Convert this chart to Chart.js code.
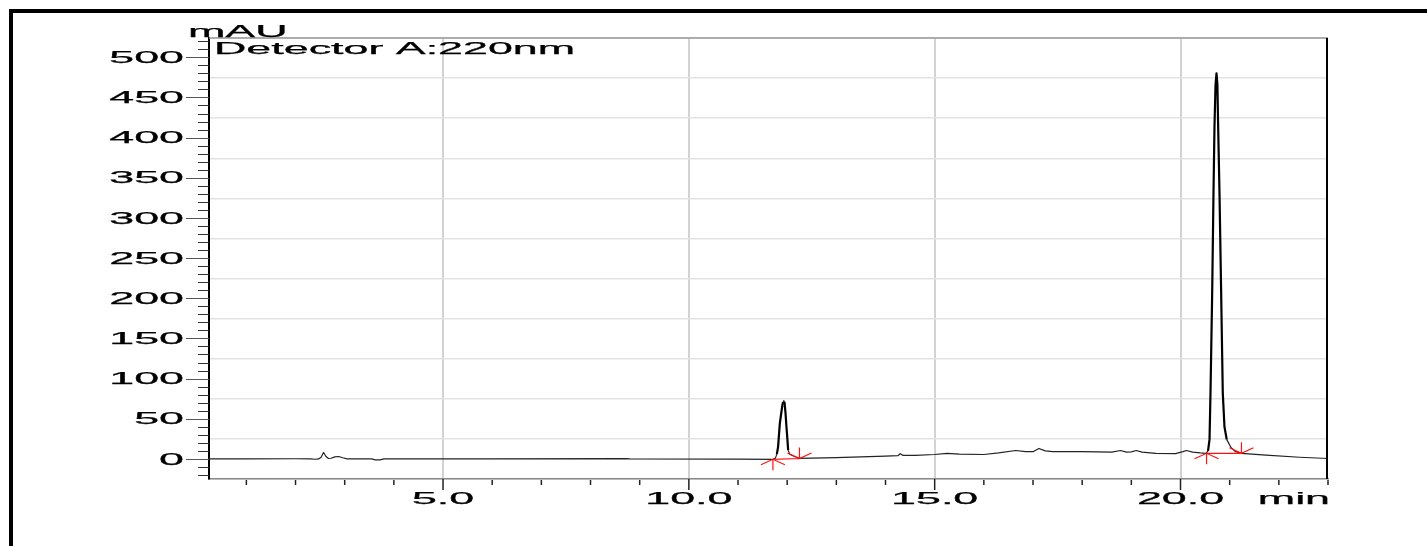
<!DOCTYPE html>
<html>
<head>
<meta charset="utf-8">
<script src="https://cdn.jsdelivr.net/npm/chart.js@4.4.1/dist/chart.umd.min.js"></script>
<style>
  html, body { margin: 0; padding: 0; background: #fff; }
  #wrap { width: 1427px; height: 546px; }
</style>
</head>
<body>
<div id="wrap"><canvas id="chrom" width="1427" height="546"></canvas></div>
<script>
// Chromatogram trace: retention time (min) / detector response (mAU)
const retTimes = [
  0.24, 1.0, 2.0, 2.3, 2.4, 2.47, 2.52, 2.57, 2.62, 2.67, 2.72, 2.8, 2.88, 2.96, 3.05,
  3.55, 3.62, 3.72, 3.8, 6.0, 8.7, 8.8, 11.0,
  11.71, 11.76, 11.79, 11.815, 11.85, 11.895, 11.915, 11.93, 11.945, 11.965, 11.985, 12.0, 12.02, 12.05, 12.15, 12.25,
  12.5, 13.0, 13.5, 14.0, 14.25, 14.3, 14.35, 14.6, 15.0, 15.25, 15.5, 16.0, 16.3, 16.65, 16.85,
  17.0, 17.12, 17.25, 17.4, 18.0, 18.6, 18.78, 18.9, 19.0, 19.1, 19.22, 19.5, 19.9, 20.05, 20.12,
  20.25, 20.4, 20.52,
  20.56, 20.59, 20.61, 20.644, 20.671, 20.691, 20.712, 20.732, 20.75, 20.766, 20.793, 20.827,
  20.86, 20.894, 20.941, 21.03, 21.12, 21.24, 21.74, 22.42, 23.0
];
const mAU = [
  0, 0, 0.2, 0, -0.4, 0, 2, 8, 3, 0.5, 0.8, 2.5, 3, 1.5, 0,
  0, -1.2, -1.2, 0, 0, 0.3, 0, -0.3,
  -0.5, 1, 6, 15, 44, 64, 71, 72.5, 71, 58, 40, 28, 11, 6, 3, 0.8,
  1, 1.5, 2.5, 3.5, 4, 6.5, 4.5, 4.5, 5.5, 7, 6, 5.5, 7.5, 10.5, 9,
  9, 13, 10, 9, 9, 8.5, 10.5, 8.5, 8.7, 10.5, 8.5, 7, 6.5, 9, 10.5,
  8.5, 7.5, 7,
  10, 24, 82, 206, 331, 413, 465, 480, 467, 413, 331, 206,
  82, 40, 24, 14, 9, 7, 4.6, 2.1, 0.5
];

// Axis ticks and labels
const yTicks = [0, 50, 100, 150, 200, 250, 300, 350, 400, 450, 500];
const yTickLabels = ['0', '50', '100', '150', '200', '250', '300', '350', '400', '450', '500'];
const xTicks = [5, 10, 15, 20];
const xTickLabels = ['5.0', '10.0', '15.0', '20.0'];

// Integration marks (peak start / end and baseline level)
const peakStart = [11.71, 20.53];
const peakStartLevel = [-0.5, 7];
const peakEnd = [12.25, 21.24];
const peakEndLevel = [0.5, 7];

const TEXT_STRETCH = 2.8;
const FONT = '16px "Liberation Sans", Arial, sans-serif';

function wideText(ctx, text, x, y, align) {
    ctx.save();
    ctx.translate(x, y);
    ctx.scale(TEXT_STRETCH, 1);
    ctx.textAlign = align;
    ctx.textBaseline = 'alphabetic';
    ctx.lineWidth = 0.25;
    ctx.strokeStyle = '#000';
    ctx.fillText(text, 0, 0);
    ctx.strokeText(text, 0, 0);
    ctx.restore();
}

const decor = {
    id: 'decor',
    beforeDraw(chart) {
        const ctx = chart.ctx;
        ctx.save();
        ctx.fillStyle = '#fff';
        ctx.fillRect(0, 0, chart.width, chart.height);
        ctx.restore();
    },
    afterDatasetsDraw(chart) {
        const { ctx, chartArea: area, scales: { x, y } } = chart;
        ctx.save();

        // outer frame
        ctx.fillStyle = '#000';
        ctx.fillRect(9, 9, chart.width - 9, 4);
        ctx.fillRect(9, 9, 4, chart.height - 9);

        // plot top and right borders
        ctx.strokeStyle = '#999';
        ctx.lineWidth = 1.5;
        ctx.beginPath();
        ctx.moveTo(area.left, area.top);
        ctx.lineTo(area.right, area.top);
        ctx.stroke();
        ctx.strokeStyle = '#000';
        ctx.lineWidth = 2;
        ctx.beginPath();
        ctx.moveTo(area.right - 1, area.top);
        ctx.lineTo(area.right - 1, area.bottom);
        ctx.stroke();

        // y tick marks (every 10 mAU)
        ctx.lineWidth = 1;
        for (let v = -20; v <= 520; v += 10) {
            const py = Math.round(y.getPixelForValue(v)) + 0.5;
            const major = yTicks.includes(v);
            ctx.strokeStyle = major ? '#555' : '#333';
            ctx.beginPath();
            ctx.moveTo(area.left - (major ? 23 : 11), py);
            ctx.lineTo(area.left, py);
            ctx.stroke();
        }

        // x tick marks (every 1 min)
        ctx.strokeStyle = '#222';
        ctx.lineWidth = 1.5;
        for (let t = 1; t <= 23; t++) {
            const px = x.getPixelForValue(t);
            const major = xTicks.includes(t);
            ctx.beginPath();
            ctx.moveTo(px, area.bottom + (major ? 0 : 1));
            ctx.lineTo(px, area.bottom + (major ? 11 : 6));
            ctx.stroke();
        }

        // labels
        ctx.fillStyle = '#000';
        ctx.font = FONT;
        yTicks.forEach((v, i) => {
            wideText(ctx, yTickLabels[i], area.left - 25, y.getPixelForValue(v) + 5.7, 'right');
        });
        xTicks.forEach((t, i) => {
            wideText(ctx, xTickLabels[i], x.getPixelForValue(t), area.bottom + 25, 'center');
        });
        wideText(ctx, 'min', area.right + 2, area.bottom + 25, 'right');
        wideText(ctx, 'mAU', area.left - 21, area.top - 1, 'left');
        wideText(ctx, 'Detector A:220nm', area.left + 5, area.top + 16, 'left');

        // integration marks
        ctx.strokeStyle = '#ff1010';
        ctx.lineWidth = 1.2;
        peakStart.forEach((t, i) => {
            const sx = x.getPixelForValue(t), sy = y.getPixelForValue(peakStartLevel[i]);
            const ex = x.getPixelForValue(peakEnd[i]), ey = y.getPixelForValue(peakEndLevel[i]);
            ctx.beginPath();
            ctx.moveTo(sx, sy);
            ctx.lineTo(ex, ey);
            // start mark
            ctx.moveTo(sx, sy);
            ctx.lineTo(sx, sy + 11);
            ctx.moveTo(sx - 12, sy + 5.5);
            ctx.lineTo(sx, sy);
            ctx.lineTo(sx + 12, sy + 5.5);
            // end mark
            ctx.moveTo(ex, ey);
            ctx.lineTo(ex, ey - 11);
            ctx.moveTo(ex - 12, ey - 5.5);
            ctx.lineTo(ex, ey);
            ctx.lineTo(ex + 12, ey - 5.5);
            ctx.stroke();
        });

        ctx.restore();
    }
};

// steep parts of the trace are drawn heavier, like the original printout
const steep = c => Math.abs(c.p1.y - c.p0.y) > 3 * Math.abs(c.p1.x - c.p0.x);

const ctx = document.getElementById('chrom').getContext('2d');
new Chart(ctx, {
    type: 'line',
    data: {
        datasets: [{
            data: retTimes.map((t, i) => ({ x: t, y: mAU[i] })),
            borderColor: '#222',
            borderWidth: 1.2,
            pointRadius: 0,
            tension: 0,
            fill: false,
            borderJoinStyle: 'round',
            segment: {
                borderWidth: c => steep(c) ? 2.2 : 1.2,
                borderColor: c => steep(c) ? '#000' : '#222'
            }
        }]
    },
    options: {
        responsive: false,
        animation: false,
        devicePixelRatio: 1,
        layout: { padding: { left: 209, top: 38, right: 99, bottom: 67 } },
        plugins: { legend: { display: false }, tooltip: { enabled: false } },
        scales: {
            x: {
                type: 'linear',
                min: 0.24,
                max: 23,
                ticks: { display: false, stepSize: 5, includeBounds: false },
                grid: { color: '#d2d2d2', lineWidth: 2, drawTicks: false },
                border: { color: '#888', width: 1.5 },
                afterFit: s => { s.height = 0; }
            },
            y: {
                type: 'linear',
                min: -25,
                max: 524,
                ticks: { display: false, stepSize: 50, includeBounds: false },
                grid: { color: '#e2e2e2', lineWidth: 1.5, drawTicks: false },
                border: { color: '#000', width: 2 },
                afterFit: s => { s.width = 0; }
            }
        }
    },
    plugins: [decor]
});
</script>
</body>
</html>
